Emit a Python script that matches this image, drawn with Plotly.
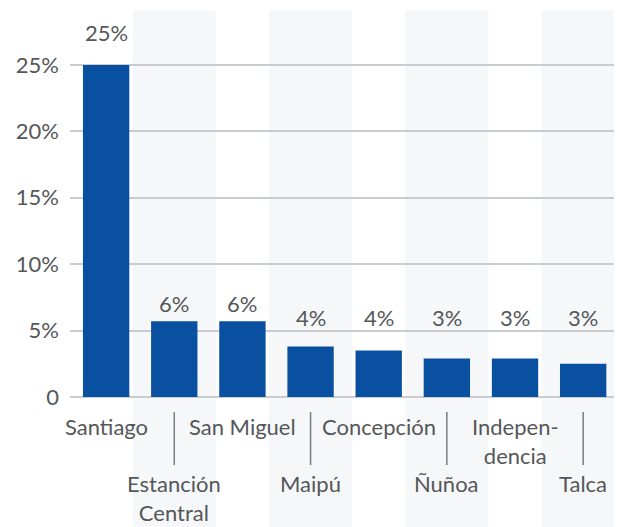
import plotly.graph_objects as go

# Datos
comunas = ["Santiago", "Estanción<br>Central", "San Miguel", "Maipú",
           "Concepción", "Ñuñoa", "Indepen-<br>dencia", "Talca"]
porcentaje = [25.0, 5.7, 5.7, 3.8, 3.5, 2.9, 2.9, 2.5]
etiquetas = ["25%", "6%", "6%", "4%", "4%", "3%", "3%", "3%"]
y_ticks = [0, 5, 10, 15, 20, 25]
y_ticktext = ["0", "5%", "10%", "15%", "20%", "25%"]

AZUL = "#0a50a1"
GRIS_TEXTO = "#555759"
FUENTE = "Lato, 'Open Sans', sans-serif"
TAM = 22

idx = list(range(len(comunas)))

fig = go.Figure(go.Bar(
    x=idx, y=porcentaje,
    marker_color=AZUL, marker_line_width=0,
    width=0.68,
    hoverinfo="skip",
))

# franjas de fondo alternas + etiquetas del eje x
shapes = []
annotations = []
for i, nombre, v, et in zip(idx, comunas, porcentaje, etiquetas):
    arriba = (i % 2 == 0)
    if not arriba:
        shapes.append(dict(type="rect", xref="x", yref="paper",
                           x0=i - 0.61, x1=i + 0.61, y0=-0.34, y1=1.0,
                           fillcolor="#f6f7f9", line_width=0, layer="below"))
        shapes.append(dict(type="line", xref="x", yref="paper",
                           x0=i, x1=i, y0=-0.039, y1=-0.176,
                           line=dict(color="#7a7c7e", width=1.5)))
    annotations.append(dict(
        x=i, xref="x", y=0, yref="paper", yanchor="top",
        yshift=-14 if arriba else -71,
        text=nombre, showarrow=False, align="center",
        font=dict(size=TAM, color=GRIS_TEXTO, family=FUENTE),
    ))
    # etiqueta de valor: las barras bajas comparten una línea de etiquetas
    annotations.append(dict(
        x=i, xref="x", y=max(v, 4.6), yref="y", yanchor="middle",
        yshift=18 if v < 10 else 32,
        text=et, showarrow=False,
        font=dict(size=TAM, color=GRIS_TEXTO, family=FUENTE),
    ))

# la página añade 8px de margen al cuerpo, se compensa aquí
fig.update_layout(
    width=614, height=519,
    margin=dict(l=62, r=0, t=2, b=130),
    paper_bgcolor="white", plot_bgcolor="rgba(0,0,0,0)",
    showlegend=False,
    shapes=shapes, annotations=annotations,
    font=dict(family=FUENTE, color=GRIS_TEXTO),
)
fig.update_xaxes(range=[-0.53, 7.57], showticklabels=False, showgrid=False,
                 zeroline=False, showline=False, ticks="")
fig.update_yaxes(range=[0, 29.14], tickvals=y_ticks, ticktext=y_ticktext,
                 tickfont=dict(size=TAM, color=GRIS_TEXTO, family=FUENTE),
                 showgrid=True, gridcolor="#c9ccd0", gridwidth=1.5,
                 zeroline=True, zerolinecolor="#c9ccd0", zerolinewidth=1.5,
                 showline=False, ticks="", ticklabelstandoff=10)

fig.write_html("out.html")
